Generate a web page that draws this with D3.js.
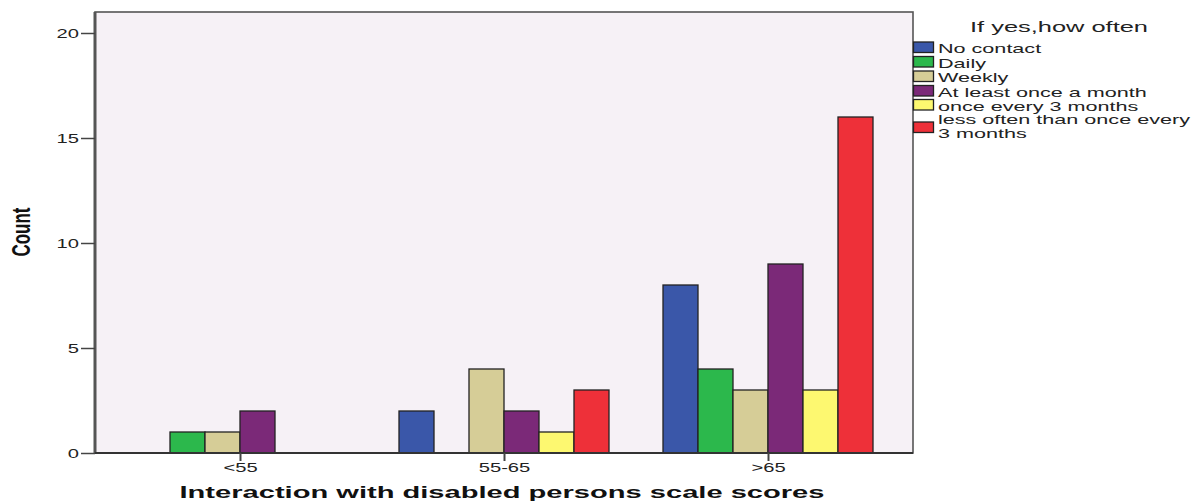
<!DOCTYPE html>
<html><head><meta charset="utf-8">
<script src="https://cdn.jsdelivr.net/npm/d3@7"></script>
<style>body{margin:0;background:#fff;} svg{display:block;}</style>
</head><body>
<svg id="c" width="1199" height="501"></svg>
<script>
const categories = ["<55", "55-65", ">65"];
const seriesNames = ["No contact", "Daily", "Weekly", "At least once a month", "once every 3 months", "less often than once every\n3 months"];
const noContact = [0, 2, 8];
const daily = [1, 0, 4];
const weekly = [1, 4, 3];
const monthly = [2, 2, 9];
const every3Months = [0, 1, 3];
const lessOften = [0, 3, 16];
const colors = ["#3a57a9", "#2cb84c", "#d6cd97", "#7b2978", "#fdf870", "#ee3039"];
const yTicks = [0, 5, 10, 15, 20];
const seriesValues = [noContact, daily, weekly, monthly, every3Months, lessOften];

const svg = d3.select("#c");
const L = 95, R = 913, T = 12, B = 453;

function stretch(sel, f) {
  sel.each(function(){ const w = this.getComputedTextLength(); this.setAttribute("textLength", w*f); this.setAttribute("lengthAdjust","spacingAndGlyphs"); });
}

const y = d3.scaleLinear().domain([0, 21]).range([B, T]);
const x = d3.scalePoint().domain(categories).range([240, 768]);
const xs = d3.scaleBand().domain(d3.range(seriesNames.length)).range([-105, 105]);

svg.append("rect").attr("x", L).attr("y", T).attr("width", R - L).attr("height", B - T).attr("fill", "#f6f1f6");

// bars
const g = svg.append("g");
seriesValues.forEach((vals, si) => {
  g.selectAll(null).data(vals.map((v, ci) => ({v, c: categories[ci]})).filter(d => d.v > 0))
    .join("rect")
    .attr("x", d => x(d.c) + xs(si))
    .attr("y", d => y(d.v))
    .attr("width", xs.bandwidth())
    .attr("height", d => y(0) - y(d.v))
    .attr("fill", colors[si])
    .attr("stroke", "#222").attr("stroke-width", 1.3);
});

// frame
svg.append("rect").attr("x", L).attr("y", T).attr("width", R - L).attr("height", B - T)
  .attr("fill", "none").attr("stroke", "#555").attr("stroke-width", 1.6);
svg.append("line").attr("x1", L).attr("x2", L).attr("y1", T).attr("y2", B).attr("stroke", "#555").attr("stroke-width", 3);
svg.append("line").attr("x1", L).attr("x2", R).attr("y1", B).attr("y2", B).attr("stroke", "#333").attr("stroke-width", 2);

// y axis
const yAxis = svg.append("g").attr("transform", `translate(${L},0)`)
  .call(d3.axisLeft(y).tickValues(yTicks).tickSize(14).tickPadding(2));
yAxis.select(".domain").remove();
yAxis.selectAll("line").attr("stroke", "#444").attr("stroke-width", 1.5);
yAxis.selectAll("text").attr("font-family", "Liberation Sans, Arial").attr("font-size", 13).attr("fill", "#222")
  .attr("dy", "0.36em").attr("x", -16).call(stretch, 1.55);

// x axis
const xAxis = svg.append("g").attr("transform", `translate(0,${B})`)
  .call(d3.axisBottom(x).tickSize(8).tickPadding(2));
xAxis.select(".domain").remove();
xAxis.selectAll("line").attr("stroke", "#444").attr("stroke-width", 2);
xAxis.selectAll("text").attr("font-family", "Liberation Sans, Arial").attr("font-size", 13).attr("fill", "#222")
  .attr("y", 19).attr("dy", 0).call(stretch, 1.55);

// axis titles
svg.append("text").attr("x", 502).attr("y", 498).attr("text-anchor", "middle")
  .attr("font-family", "Liberation Sans, Arial").attr("font-weight", "bold").attr("font-size", 16.5)
  .attr("fill", "#111").attr("textLength", 645).attr("lengthAdjust", "spacingAndGlyphs")
  .text("Interaction with disabled persons scale scores");
svg.append("text").attr("transform", "translate(30,232) rotate(-90)").attr("text-anchor", "middle")
  .attr("font-family", "Liberation Sans, Arial").attr("font-weight", "bold").attr("font-size", 25)
  .attr("fill", "#111").attr("textLength", 49).attr("lengthAdjust", "spacingAndGlyphs").text("Count");

// legend
const lg = svg.append("g");
lg.append("text").attr("x", 970).attr("y", 32).attr("font-family", "Liberation Sans, Arial").attr("font-size", 14)
  .attr("fill", "#222").attr("textLength", 178).attr("lengthAdjust", "spacingAndGlyphs").text("If yes,how often");
const rowY = [53, 67.5, 82, 96.5, 110.5];
seriesNames.forEach((name, i) => {
  const lines = name.split("\n");
  const base = i < 5 ? rowY[i] : 124;
  const sy = i < 5 ? base - 11 : 122;
  lg.append("rect").attr("x", 913.5).attr("y", sy).attr("width", 20).attr("height", 10.5)
    .attr("fill", colors[i]).attr("stroke", "#222").attr("stroke-width", 1.3);
  lines.forEach((ln, k) => {
    lg.append("text").attr("x", 938).attr("y", base + k * 13.5)
      .attr("font-family", "Liberation Sans, Arial").attr("font-size", 13).attr("fill", "#222")
      .text(ln).call(stretch, 1.66);
  });
});
</script>
</body></html>
